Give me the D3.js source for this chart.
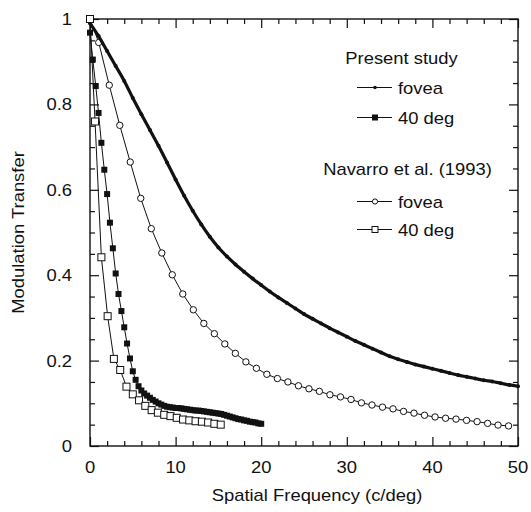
<!DOCTYPE html>
<html>
<head>
<meta charset="utf-8">
<script src="https://cdn.jsdelivr.net/npm/d3@7"></script>
<style>
  body { margin: 0; background: #fff; }
  text { font-family: "Liberation Sans", Arial, Helvetica, sans-serif; font-size: 16px; fill: #111; }
</style>
</head>
<body>
<svg id="chart" width="531" height="512"></svg>
<script>
// present study, fovea
var presFoveaF = [0, 1, 2, 3, 4, 5, 6, 7, 8, 9, 10, 11, 12, 13, 14, 15, 16, 17, 18, 19, 20,
    21, 22, 23, 24, 25, 26, 27, 28, 29, 30, 31, 32, 33, 34, 35, 36, 37, 38, 39, 40,
    41, 42, 43, 44, 45, 46, 47, 48, 49, 50];
var presFoveaV = [0.99, 0.96, 0.925, 0.89, 0.855, 0.815, 0.777, 0.74, 0.703, 0.664, 0.624,
    0.586, 0.551, 0.519, 0.49, 0.465, 0.444, 0.425, 0.408, 0.392, 0.377,
    0.362, 0.348, 0.335, 0.322, 0.309, 0.298, 0.287, 0.276, 0.266, 0.256,
    0.246, 0.237, 0.228, 0.219, 0.21, 0.203, 0.197, 0.191, 0.186, 0.181,
    0.176, 0.171, 0.166, 0.162, 0.158, 0.154, 0.151, 0.147, 0.143, 0.14];

// present study, 40 deg
var pres40F = [0, 0.33, 0.67, 1, 1.33, 1.67, 2, 2.33, 2.67, 3, 3.33, 3.67, 4, 4.33, 4.67,
    5, 5.33, 5.67, 6, 6.33, 6.67, 7, 7.33, 7.67, 8, 8.33, 8.67, 9, 9.33, 9.67,
    10, 10.33, 10.67, 11, 11.33, 11.67, 12, 12.33, 12.67, 13, 13.33, 13.67, 14, 14.33, 14.67,
    15, 15.33, 15.67, 16, 16.33, 16.67, 17, 17.33, 17.67, 18, 18.33, 18.67, 19, 19.33, 19.67, 20];
var pres40V = [0.968, 0.905, 0.843, 0.78, 0.71, 0.647, 0.59, 0.523, 0.463, 0.404, 0.356, 0.316, 0.278, 0.24, 0.205,
    0.175, 0.155, 0.14, 0.13, 0.123, 0.118, 0.113, 0.108, 0.104, 0.1, 0.097, 0.094, 0.092, 0.091, 0.09,
    0.089, 0.089, 0.088, 0.087, 0.086, 0.085, 0.084, 0.083, 0.083, 0.082, 0.081, 0.08, 0.079, 0.078, 0.077,
    0.076, 0.075, 0.073, 0.071, 0.069, 0.067, 0.065, 0.063, 0.062, 0.06, 0.059, 0.057, 0.056, 0.055, 0.053, 0.052];

// Navarro et al. (1993), fovea
var navFoveaF = [0, 1.02, 2.25, 3.48, 4.7, 5.93, 7.16, 8.39, 9.61, 10.84, 12.07, 13.3, 14.53, 15.75,
    16.98, 18.21, 19.44, 20.66, 21.89, 23.12, 24.35, 25.58, 26.8, 28.03, 29.26, 30.49, 31.71,
    32.94, 34.17, 35.4, 36.63, 37.85, 39.08, 40.31, 41.54, 42.76, 43.99, 45.22, 46.45, 47.67, 48.9];
var navFoveaV = [1.0, 0.945, 0.845, 0.751, 0.665, 0.58, 0.509, 0.452, 0.401, 0.356, 0.319, 0.287, 0.263, 0.239,
    0.217, 0.197, 0.182, 0.168, 0.158, 0.15, 0.141, 0.134, 0.128, 0.12, 0.115, 0.109, 0.101,
    0.096, 0.091, 0.087, 0.081, 0.077, 0.072, 0.068, 0.065, 0.063, 0.06, 0.057, 0.053, 0.049, 0.047];

// Navarro et al. (1993), 40 deg
var nav40F = [0, 0.59, 1.33, 2.06, 2.79, 3.53, 4.26, 5.0, 5.73, 6.46, 7.2, 7.93, 8.67, 9.4,
    10.13, 10.87, 11.6, 12.33, 13.07, 13.8, 14.53, 15.27];
var nav40V = [1.0, 0.76, 0.442, 0.304, 0.204, 0.178, 0.139, 0.121, 0.107, 0.094, 0.084, 0.078, 0.073, 0.07,
    0.066, 0.062, 0.06, 0.058, 0.057, 0.055, 0.052, 0.05];

var xMajorTicks = [0, 10, 20, 30, 40, 50];
var xMinorTicks = [2, 4, 6, 8, 12, 14, 16, 18, 22, 24, 26, 28, 32, 34, 36, 38, 42, 44, 46, 48];
var yMajorTicks = [0, 0.2, 0.4, 0.6, 0.8, 1];
var yMinorTicks = [0.05, 0.1, 0.15, 0.25, 0.3, 0.35, 0.45, 0.5, 0.55, 0.65, 0.7, 0.75, 0.85, 0.9, 0.95];
var yTickLabels = ['0', '0.2', '0.4', '0.6', '0.8', '1'];

var sx = 1.15; // the scanned type is a bit wider than Arial

var svg = d3.select('#chart');

var x = d3.scaleLinear().domain([0, 50]).range([90, 518]);
var y = d3.scaleLinear().domain([0, 1]).range([446, 19]);

function zip(fs, vs) {
    return fs.map(function(f, i) { return { f: f, v: vs[i] }; });
}

function label(x0, y0, txt, anchor, rot) {
    return svg.append('text')
        .attr('transform', 'translate(' + x0 + ',' + y0 + ')' + (rot ? ' rotate(' + rot + ')' : '') + ' scale(' + sx + ',1)')
        .attr('text-anchor', anchor)
        .text(txt);
}

function tickAxis(axis, tr, vals, size) {
    var g = svg.append('g')
        .attr('transform', tr)
        .call(axis.tickValues(vals).tickSize(size).tickFormat(''));
    g.select('.domain').remove();
    g.selectAll('line').attr('stroke', '#111').attr('stroke-width', 1.2);
}

// ticks on all four sides, pointing in
tickAxis(d3.axisBottom(x), 'translate(0,446)', xMinorTicks, -5);
tickAxis(d3.axisBottom(x), 'translate(0,446)', xMajorTicks, -9);
tickAxis(d3.axisTop(x), 'translate(0,19)', xMinorTicks, -5);
tickAxis(d3.axisTop(x), 'translate(0,19)', xMajorTicks, -9);
tickAxis(d3.axisLeft(y), 'translate(90,0)', yMinorTicks, -5);
tickAxis(d3.axisLeft(y), 'translate(90,0)', yMajorTicks, -9);
tickAxis(d3.axisRight(y), 'translate(518,0)', yMinorTicks, -5);
tickAxis(d3.axisRight(y), 'translate(518,0)', yMajorTicks, -9);

svg.append('rect')
    .attr('x', x(0)).attr('y', y(1))
    .attr('width', x(50) - x(0)).attr('height', y(0) - y(1))
    .attr('fill', 'none').attr('stroke', '#111').attr('stroke-width', 1.4);

// tick labels
xMajorTicks.forEach(function(t) { label(x(t), 473, String(t), 'middle'); });
yMajorTicks.forEach(function(t, i) { label(72, y(t) + 6, yTickLabels[i], 'end'); });

label(317, 501, 'Spatial Frequency (c/deg)', 'middle');
label(24, (y(0) + y(1)) / 2, 'Modulation Transfer', 'middle', -90);

var line = d3.line()
    .x(function(d) { return x(d.f); })
    .y(function(d) { return y(d.v); });

// Navarro fovea
var navFovea = zip(navFoveaF, navFoveaV);
svg.append('path').datum(navFovea).attr('d', line)
    .attr('fill', 'none').attr('stroke', '#111').attr('stroke-width', 1);
svg.append('g').selectAll('circle').data(navFovea).enter().append('circle')
    .attr('cx', function(d) { return x(d.f); })
    .attr('cy', function(d) { return y(d.v); })
    .attr('r', 3.2)
    .attr('fill', '#fff').attr('stroke', '#111').attr('stroke-width', 1);

// present fovea: dense dots, reads as a thick beaded line
var presFovea = zip(presFoveaF, presFoveaV);
svg.append('path').datum(presFovea).attr('d', line.curve(d3.curveMonotoneX))
    .attr('fill', 'none').attr('stroke', '#111').attr('stroke-width', 3.2);
line.curve(d3.curveLinear);
svg.append('g').selectAll('circle').data(presFovea).enter().append('circle')
    .attr('cx', function(d) { return x(d.f); })
    .attr('cy', function(d) { return y(d.v); })
    .attr('r', 2)
    .attr('fill', '#111');

// present 40 deg
var pres40 = zip(pres40F, pres40V);
svg.append('path').datum(pres40).attr('d', line)
    .attr('fill', 'none').attr('stroke', '#111').attr('stroke-width', 1);
svg.append('g').selectAll('rect').data(pres40).enter().append('rect')
    .attr('x', function(d) { return x(d.f) - 3; })
    .attr('y', function(d) { return y(d.v) - 3; })
    .attr('width', 6).attr('height', 6)
    .attr('fill', '#111');

// Navarro 40 deg
var nav40 = zip(nav40F, nav40V);
svg.append('path').datum(nav40).attr('d', line)
    .attr('fill', 'none').attr('stroke', '#111').attr('stroke-width', 1);
svg.append('g').selectAll('rect').data(nav40).enter().append('rect')
    .attr('x', function(d) { return x(d.f) - 3.5; })
    .attr('y', function(d) { return y(d.v) - 3.5; })
    .attr('width', 7).attr('height', 7)
    .attr('fill', '#fff').attr('stroke', '#111').attr('stroke-width', 1);

// legend
var legend = svg.append('g');
label(401.5, 64, 'Present study', 'middle');
label(407.5, 175, 'Navarro et al. (1993)', 'middle');

var legendItems = [
    { name: 'fovea', y: 87.5, mark: 'dot' },
    { name: '40 deg', y: 117.5, mark: 'fsq' },
    { name: 'fovea', y: 201.5, mark: 'circle' },
    { name: '40 deg', y: 229.5, mark: 'osq' }
];

legendItems.forEach(function(d) {
    legend.append('line')
        .attr('x1', 357).attr('x2', 392).attr('y1', d.y).attr('y2', d.y)
        .attr('stroke', '#111').attr('stroke-width', 1);
    if (d.mark == 'dot') {
        legend.append('circle').attr('cx', 375).attr('cy', d.y).attr('r', 1.8).attr('fill', '#111');
    } else if (d.mark == 'fsq') {
        legend.append('rect').attr('x', 372).attr('y', d.y - 3).attr('width', 6).attr('height', 6).attr('fill', '#111');
    } else if (d.mark == 'circle') {
        legend.append('circle').attr('cx', 375).attr('cy', d.y).attr('r', 2.6)
            .attr('fill', '#fff').attr('stroke', '#111').attr('stroke-width', 1);
    } else {
        legend.append('rect').attr('x', 372).attr('y', d.y - 3).attr('width', 6).attr('height', 6)
            .attr('fill', '#fff').attr('stroke', '#111').attr('stroke-width', 1);
    }
    label(398, d.y + 6, d.name, 'start');
});
</script>
</body>
</html>
